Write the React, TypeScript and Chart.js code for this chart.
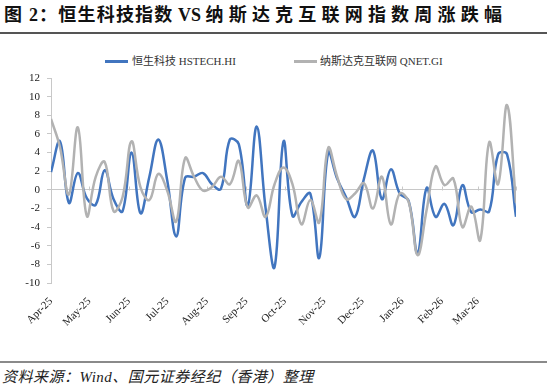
import React, { useEffect, useRef } from 'react';
import { Chart, registerables } from 'chart.js';

Chart.register(...registerables);

// Weekly closing dates (Fridays)
const weekDates = [
  '2025-04-04', '2025-04-11', '2025-04-18', '2025-04-25',
  '2025-05-02', '2025-05-09', '2025-05-16', '2025-05-23', '2025-05-30',
  '2025-06-06', '2025-06-13', '2025-06-20', '2025-06-27',
  '2025-07-04', '2025-07-11', '2025-07-18', '2025-07-25',
  '2025-08-01', '2025-08-08', '2025-08-15', '2025-08-22', '2025-08-29',
  '2025-09-05', '2025-09-12', '2025-09-19', '2025-09-26',
  '2025-10-03', '2025-10-10', '2025-10-17', '2025-10-24', '2025-10-31',
  '2025-11-07', '2025-11-14', '2025-11-21', '2025-11-28',
  '2025-12-05', '2025-12-12', '2025-12-19', '2025-12-26',
  '2026-01-02', '2026-01-09', '2026-01-16', '2026-01-23', '2026-01-30',
  '2026-02-06', '2026-02-13', '2026-02-20', '2026-02-27',
  '2026-03-06', '2026-03-13', '2026-03-20', '2026-03-27',
  '2026-04-03',
];

// 恒生科技 HSTECH.HI weekly change (%)
const hstech = [
  1.9, 5.2, -1.4, 1.8, -0.9, -1.6, 2.1, -1.0, -2.3,
  4.0, -2.5, 1.4, 5.4, 1.0, -5.0, 1.3, 1.4, 1.8,
  0.6, 0.1, 5.4, 4.9, -1.7, 6.8, -2.0, -8.3, 5.2,
  -2.8, -1.3, -0.4, -7.3, 4.0, 1.2, -0.8, -2.9, 1.2,
  4.2, -1.0, 2.2, -0.4, -1.2, -6.8, 0.2, -2.9, -1.5,
  -3.8, 0.5, -2.4, -2.1, -2.3, 3.8, 3.8, -2.9,
];

// 纳斯达克互联网 QNET.GI weekly change (%)
const qnet = [
  7.6, 4.6, -0.5, 6.7, -2.8, 1.4, 3.0, -2.3, -0.8,
  5.2, 0.3, -1.1, 1.7, -0.1, -3.4, 3.4, 1.4, -0.1,
  0.3, 1.4, 0.6, 3.1, -1.9, -0.6, -2.9, 0.6, 2.4,
  0.6, -3.7, -1.1, -3.5, 4.5, 1.4, -1.0, -0.4, 0.7,
  -2.0, 1.4, -3.7, -0.4, -1.3, -7.0, -2.2, 2.5, 0.5,
  1.2, -4.0, -1.8, -5.4, 5.1, 0.6, 9.1, -1.4,
];

const monthTickDates = [
  '2025-04-04', '2025-05-04', '2025-06-04', '2025-07-04', '2025-08-04', '2025-09-04',
  '2025-10-04', '2025-11-04', '2025-12-04', '2026-01-04', '2026-02-04', '2026-03-04',
];
const monthTickLabels = [
  'Apr-25', 'May-25', 'Jun-25', 'Jul-25', 'Aug-25', 'Sep-25',
  'Oct-25', 'Nov-25', 'Dec-25', 'Jan-26', 'Feb-26', 'Mar-26',
];

const seriesLabels = ['恒生科技 HSTECH.HI', '纳斯达克互联网 QNET.GI'];
const Y_MIN = -10;
const Y_MAX = 12;
const Y_STEP = 2;

const BLUE = '#4175bf';
const GRAY = '#b2b2b2';
const AXIS = '#c8c8c8';
const SERIF = "'Liberation Serif', 'Noto Sans CJK SC', serif";

const DAY_MS = 86400000;
const toUTC = (s: string) => {
  const [y, m, d] = s.split('-').map(Number);
  return Date.UTC(y, m - 1, d);
};
const BASE = toUTC(weekDates[0]);
const dayOffset = (s: string) => Math.round((toUTC(s) - BASE) / DAY_MS);

const monthOffsets = monthTickDates.map(dayOffset);
const X_MAX = dayOffset(weekDates[weekDates.length - 1]);

const axisTickMarks = {
  id: 'axisTickMarks',
  beforeDatasetsDraw(chart: any) {
    const { ctx, scales } = chart;
    const x = scales.x;
    const y = scales.y;
    const y0 = Math.round(y.getPixelForValue(0)) + 0.5;
    ctx.save();
    ctx.strokeStyle = AXIS;
    ctx.lineWidth = 1;
    [...monthOffsets, X_MAX].forEach((v) => {
      const px = Math.round(x.getPixelForValue(v)) + 0.5;
      ctx.beginPath();
      ctx.moveTo(px, y0);
      ctx.lineTo(px, y0 - 4);
      ctx.stroke();
    });
    ctx.restore();
  },
};

export default function App() {
  const canvasRef = useRef<HTMLCanvasElement | null>(null);

  useEffect(() => {
    if (!canvasRef.current) return;
    const chart = new Chart(canvasRef.current, {
      type: 'line',
      data: {
        datasets: [
          {
            label: seriesLabels[0],
            data: weekDates.map((d, i) => ({ x: dayOffset(d), y: hstech[i] })),
            borderColor: BLUE,
            backgroundColor: BLUE,
            borderWidth: 2.5,
            pointRadius: 0,
            tension: 0.4,
            order: 1,
          },
          {
            label: seriesLabels[1],
            data: weekDates.map((d, i) => ({ x: dayOffset(d), y: qnet[i] })),
            borderColor: GRAY,
            backgroundColor: GRAY,
            borderWidth: 2.5,
            pointRadius: 0,
            tension: 0.4,
            order: 0,
          },
        ],
      },
      options: {
        animation: false,
        responsive: false,
        layout: { padding: { left: 0, right: 31, top: 8, bottom: 0 } },
        plugins: {
          legend: { display: false },
          tooltip: { enabled: false },
        },
        scales: {
          x: {
            type: 'linear',
            min: 0,
            max: X_MAX,
            afterBuildTicks: (s: any) => {
              s.ticks = monthOffsets.map((v) => ({ value: v }));
            },
            afterFit: (s: any) => {
              s.height = 77;
              s.paddingLeft = 0;
              s.paddingRight = 0;
            },
            grid: { display: false },
            border: { display: false },
            ticks: {
              autoSkip: false,
              maxRotation: 45,
              minRotation: 45,
              padding: 4,
              color: '#222',
              font: { family: SERIF, size: 11 },
              callback: (_v: any, i: number) => monthTickLabels[i],
            },
          },
          y: {
            min: Y_MIN,
            max: Y_MAX,
            afterFit: (s: any) => {
              s.width = 51;
              s.paddingTop = 0;
              s.paddingBottom = 0;
            },
            grid: {
              color: (c: any) => (c.tick && c.tick.value === 0 ? AXIS : 'rgba(0,0,0,0)'),
              tickColor: AXIS,
              tickLength: 4,
            },
            border: { display: true, color: AXIS },
            ticks: {
              stepSize: Y_STEP,
              padding: 7,
              color: '#222',
              font: { family: SERIF, size: 11 },
            },
          },
        },
      },
      plugins: [axisTickMarks],
    } as any);
    return () => chart.destroy();
  }, []);

  const legendText: React.CSSProperties = {
    position: 'absolute',
    top: 54,
    fontFamily: SERIF,
    fontSize: 11,
    lineHeight: '14px',
    color: '#333',
    whiteSpace: 'nowrap',
  };
  const legendLine = (color: string, left: number): React.CSSProperties => ({
    position: 'absolute',
    left,
    top: 60,
    width: 23,
    height: 2.5,
    background: color,
  });

  return (
    <div
      style={{
        position: 'fixed',
        left: 0,
        top: 0,
        width: 547,
        height: 390,
        background: '#fff',
        overflow: 'hidden',
      }}
    >
      <div
        style={{
          position: 'absolute',
          left: 4,
          top: 4,
          fontFamily: SERIF,
          fontWeight: 'bold',
          fontSize: 18,
          lineHeight: '22px',
          color: '#111',
          whiteSpace: 'nowrap',
        }}
      >
        <span style={{ letterSpacing: 1.2 }}>图 2：恒生科技指数</span>
        <span> VS </span>
        <span style={{ letterSpacing: 5.2 }}>纳斯达克互联网指数周涨跌幅</span>
      </div>
      <div style={{ position: 'absolute', left: 0, top: 32, width: 547, height: 1.5, background: '#555' }} />

      <div style={legendLine(BLUE, 105)} />
      <div style={{ ...legendText, left: 132 }}>{seriesLabels[0]}</div>
      <div style={legendLine(GRAY, 294)} />
      <div style={{ ...legendText, left: 320 }}>{seriesLabels[1]}</div>

      <canvas
        ref={canvasRef}
        width={547}
        height={290}
        style={{ position: 'absolute', left: 0, top: 70, width: 547, height: 290 }}
      />

      <div style={{ position: 'absolute', left: 0, top: 361, width: 547, height: 2, background: '#8a8a8a' }} />
      <div
        style={{
          position: 'absolute',
          left: 2,
          top: 367,
          fontFamily: SERIF,
          fontStyle: 'italic',
          fontSize: 15,
          lineHeight: '20px',
          letterSpacing: 0.5,
          color: '#222',
          whiteSpace: 'nowrap',
        }}
      >
        资料来源：Wind、国元证券经纪（香港）整理
      </div>
    </div>
  );
}
